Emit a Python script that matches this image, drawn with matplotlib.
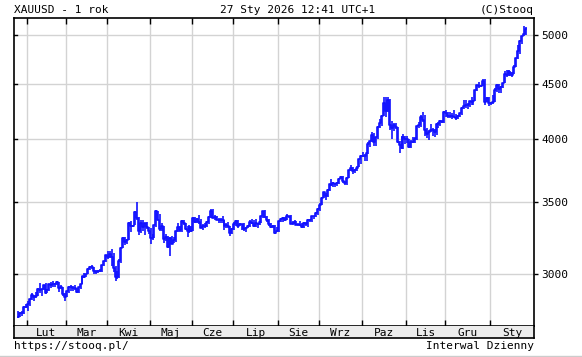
#!/usr/bin/env python
# coding:utf-8
import matplotlib
matplotlib.use('Agg')
import matplotlib.pyplot as plt
import numpy as np
import pandas as pd

# XAUUSD, daily, 2025-01-27 .. 2026-01-27 (business days)
close = [2740, 2763, 2760, 2795, 2798,
         2815, 2842, 2866, 2856, 2861, 2908, 2898, 2905, 2928, 2882, 2898, 2935, 2933, 2939, 2936, 2952, 2915, 2916, 2876, 2858,
         2893, 2918, 2920, 2911, 2910, 2889, 2918, 2935, 2988, 2984, 3001, 3034, 3048, 3044, 3023, 3011, 3020, 3019, 3057, 3085, 3123,
         3113, 3134, 3114, 3037, 2982, 2982, 3083, 3175, 3237, 3210, 3230, 3343, 3327, 3327, 3424, 3381, 3288, 3349, 3319, 3343, 3316, 3288,
         3239, 3241, 3334, 3431, 3366, 3306, 3325, 3236, 3249, 3176, 3240, 3202, 3229, 3290, 3314, 3294, 3357, 3343, 3300, 3288, 3317, 3289,
         3380, 3353, 3375, 3352, 3310, 3325, 3322, 3355, 3387, 3432, 3384, 3388, 3368, 3369, 3368, 3368, 3322, 3332, 3327, 3274, 3303,
         3338, 3357, 3326, 3337, 3336, 3301, 3313, 3324, 3355, 3343, 3324, 3347, 3338, 3350, 3397, 3431, 3387, 3368, 3337, 3314, 3326, 3274, 3289,
         3363, 3373, 3380, 3369, 3397, 3398, 3342, 3348, 3356, 3335, 3336, 3332, 3315, 3348, 3339, 3371, 3365, 3393, 3397, 3416, 3448,
         3476, 3533, 3578, 3545, 3587, 3636, 3626, 3641, 3634, 3643, 3679, 3690, 3660, 3644, 3685, 3746, 3763, 3736, 3749, 3760, 3833, 3858,
         3865, 3857, 3886, 3960, 3985, 4042, 3975, 4017, 4110, 4142, 4208, 4326, 4251, 4356, 4125, 4095, 4126, 4112, 3981, 3951, 3930, 4025, 4002,
         4000, 3932, 3980, 3977, 4001, 4115, 4128, 4194, 4171, 4084, 4045, 4067, 4078, 4078, 4065, 4136, 4132, 4163, 4156, 4240,
         4231, 4206, 4201, 4208, 4198, 4190, 4209, 4230, 4280, 4300, 4305, 4302, 4338, 4330, 4339, 4444, 4490, 4480, 4480, 4532, 4332, 4372, 4320,
         4320, 4330, 4447, 4495, 4455, 4477, 4510, 4598, 4590, 4625, 4614, 4595, 4670, 4760, 4835, 4935, 4985, 5010, 5060]

high = [2772, 2766, 2772, 2800, 2817,
        2830, 2845, 2882, 2870, 2886, 2911, 2942, 2908, 2933, 2942, 2905, 2938, 2947, 2955, 2946, 2956, 2947, 2928, 2917, 2880,
        2896, 2927, 2930, 2925, 2930, 2915, 2920, 2940, 2990, 3005, 3002, 3038, 3054, 3058, 3045, 3026, 3026, 3034, 3060, 3087, 3128,
        3149, 3149, 3168, 3136, 3055, 3020, 3100, 3180, 3245, 3245, 3234, 3350, 3357, 3330, 3430, 3500, 3386, 3368, 3371, 3345, 3350, 3318,
        3307, 3269, 3335, 3437, 3434, 3414, 3347, 3324, 3265, 3255, 3245, 3252, 3250, 3292, 3345, 3325, 3365, 3365, 3346, 3325, 3330, 3325,
        3392, 3392, 3385, 3403, 3375, 3340, 3348, 3360, 3398, 3451, 3450, 3405, 3399, 3385, 3385, 3398, 3368, 3345, 3350, 3328, 3310,
        3350, 3365, 3365, 3345, 3342, 3345, 3318, 3330, 3368, 3375, 3366, 3377, 3343, 3360, 3400, 3434, 3439, 3394, 3373, 3345, 3334, 3334, 3315,
        3363, 3385, 3390, 3390, 3409, 3400, 3405, 3358, 3368, 3358, 3340, 3358, 3345, 3350, 3351, 3378, 3376, 3394, 3397, 3423, 3453,
        3489, 3540, 3578, 3565, 3600, 3640, 3674, 3656, 3644, 3656, 3685, 3703, 3698, 3660, 3688, 3750, 3791, 3770, 3755, 3780, 3835, 3871,
        3895, 3875, 3890, 3975, 3990, 4060, 4059, 4022, 4115, 4180, 4218, 4380, 4379, 4381, 4360, 4162, 4145, 4140, 4110, 3990, 4030, 4046, 4030,
        4030, 4004, 3995, 4020, 4020, 4120, 4149, 4210, 4245, 4211, 4095, 4082, 4130, 4100, 4090, 4140, 4155, 4170, 4173, 4250,
        4264, 4240, 4240, 4235, 4260, 4220, 4215, 4235, 4285, 4353, 4350, 4325, 4345, 4375, 4350, 4448, 4497, 4525, 4490, 4549, 4550, 4382, 4380,
        4330, 4400, 4460, 4500, 4500, 4480, 4515, 4630, 4635, 4640, 4630, 4620, 4690, 4765, 4890, 4950, 4990, 5095, 5090]

low = [2730, 2738, 2745, 2757, 2790,
       2772, 2800, 2836, 2834, 2853, 2860, 2880, 2864, 2902, 2876, 2880, 2896, 2913, 2921, 2920, 2928, 2888, 2905, 2865, 2832,
       2858, 2880, 2895, 2895, 2897, 2880, 2880, 2906, 2935, 2975, 2980, 3000, 3025, 3034, 2999, 3000, 3006, 3015, 3016, 3053, 3076,
       3100, 3105, 3054, 3015, 2957, 2970, 2975, 3072, 3170, 3195, 3200, 3230, 3285, 3320, 3330, 3367, 3260, 3276, 3287, 3262, 3300, 3268,
       3202, 3225, 3237, 3318, 3365, 3290, 3291, 3208, 3223, 3172, 3121, 3200, 3208, 3210, 3283, 3285, 3285, 3330, 3293, 3245, 3275, 3280,
       3290, 3345, 3343, 3338, 3307, 3295, 3310, 3315, 3342, 3382, 3380, 3367, 3365, 3346, 3345, 3347, 3295, 3312, 3310, 3255, 3270,
       3295, 3328, 3311, 3325, 3296, 3287, 3282, 3310, 3320, 3340, 3320, 3320, 3310, 3330, 3345, 3384, 3381, 3351, 3324, 3310, 3308, 3268, 3280,
       3280, 3350, 3355, 3358, 3365, 3380, 3340, 3330, 3345, 3332, 3325, 3323, 3311, 3311, 3325, 3321, 3350, 3351, 3376, 3391, 3405,
       3436, 3475, 3527, 3511, 3536, 3585, 3620, 3615, 3615, 3625, 3633, 3676, 3645, 3627, 3630, 3686, 3742, 3717, 3722, 3740, 3770, 3792,
       3850, 3820, 3820, 3880, 3940, 3982, 3945, 3945, 4005, 4097, 4120, 4205, 4200, 4240, 4080, 4000, 4070, 4090, 3971, 3886, 3915, 3920, 3964,
       3970, 3930, 3928, 3972, 3970, 3995, 4097, 4110, 4154, 4032, 4015, 3998, 4060, 4030, 4022, 4040, 4100, 4117, 4140, 4145,
       4200, 4185, 4185, 4175, 4195, 4170, 4175, 4195, 4210, 4265, 4280, 4270, 4290, 4310, 4305, 4340, 4440, 4460, 4470, 4480, 4303, 4330, 4300,
       4310, 4315, 4330, 4430, 4420, 4420, 4460, 4510, 4570, 4580, 4580, 4575, 4600, 4665, 4750, 4800, 4900, 4990, 5000]

months = ['Lut', 'Mar', 'Kwi', 'Maj', 'Cze', 'Lip', 'Sie', 'Wrz', 'Paz', 'Lis', 'Gru', 'Sty']
yticks = [3000, 3500, 4000, 4500, 5000]

dates = pd.bdate_range('2025-01-27', '2026-01-27')
idx = np.arange(len(dates))

# month boundaries -> gridlines, labels centred between them
starts = [i - 0.5 for i in range(1, len(dates)) if dates[i].month != dates[i - 1].month]
xmin, xmax = -2.2, 265.1
edges = starts + [xmax]
centres = [(edges[k] + edges[k + 1]) / 2 for k in range(len(starts))]

W, H = 582, 357
fig = plt.figure(figsize=(W / 100, H / 100), dpi=100)
mono = 'DejaVu Sans Mono'
blue = '#1010ff'
grid = '#d3d3d3'

ax = fig.add_axes([14 / W, (H - 326) / H, 520 / W, 308 / H])
ax.set_yscale('log')
ax.set_xlim(xmin, xmax)
ax.set_ylim(2685, 5185)

for s in starts:
    ax.axvline(s, color=grid, lw=1.0, zorder=0)
for t in yticks:
    ax.axhline(t, color=grid, lw=1.0, zorder=0)

ax.vlines(idx, low, high, color=blue, lw=1.2, zorder=2)
ax.plot(idx, close, color=blue, lw=1.2, drawstyle='steps-mid', zorder=2)

ax.yaxis.tick_right()
ax.set_yticks(yticks)
ax.set_yticks([], minor=True)
ax.set_yticklabels([str(t) for t in yticks], family=mono, fontsize=8)
ax.tick_params(axis='y', which='major', direction='out', length=3, width=1, pad=2)
ax.set_xticks(starts)
ax.set_xticklabels([])
ax.tick_params(axis='x', direction='in', length=4, width=1, top=True, bottom=True)
# inward ticks on left spine too
for t in yticks:
    ax.plot([xmin, xmin + 1.6], [t, t], color='black', lw=1, clip_on=False, zorder=3)
for sp in ax.spines.values():
    sp.set_linewidth(1.2)

band = fig.add_axes([14 / W, (H - 338) / H, 520 / W, 12 / H])
band.set_facecolor('#ececec')
band.set_xlim(xmin, xmax)
band.set_ylim(0, 1)
band.set_xticks([])
band.set_yticks([])
for sp in band.spines.values():
    sp.set_linewidth(1.2)
band.spines['top'].set_visible(False)
for c, m in zip(centres, months):
    band.text(c, 0.45, m, ha='center', va='center', family=mono, fontsize=8)

fig.text(14 / W, 1 - 10 / H, 'XAUUSD - 1 rok', ha='left', va='center', family=mono, fontsize=8)
fig.text(298 / W, 1 - 10 / H, '27 Sty 2026 12:41 UTC+1', ha='center', va='center', family=mono, fontsize=8)
fig.text(534 / W, 1 - 10 / H, '(C)Stooq', ha='right', va='center', family=mono, fontsize=8)
fig.text(14 / W, 1 - 346 / H, 'https://stooq.pl/', ha='left', va='center', family=mono, fontsize=8)
fig.text(534 / W, 1 - 346 / H, 'Interwal Dzienny', ha='right', va='center', family=mono, fontsize=8)
fig.add_artist(plt.Line2D([0, 1], [1 - 356 / H] * 2, color='#cccccc', lw=1))

fig.savefig('out.png', dpi=100)
